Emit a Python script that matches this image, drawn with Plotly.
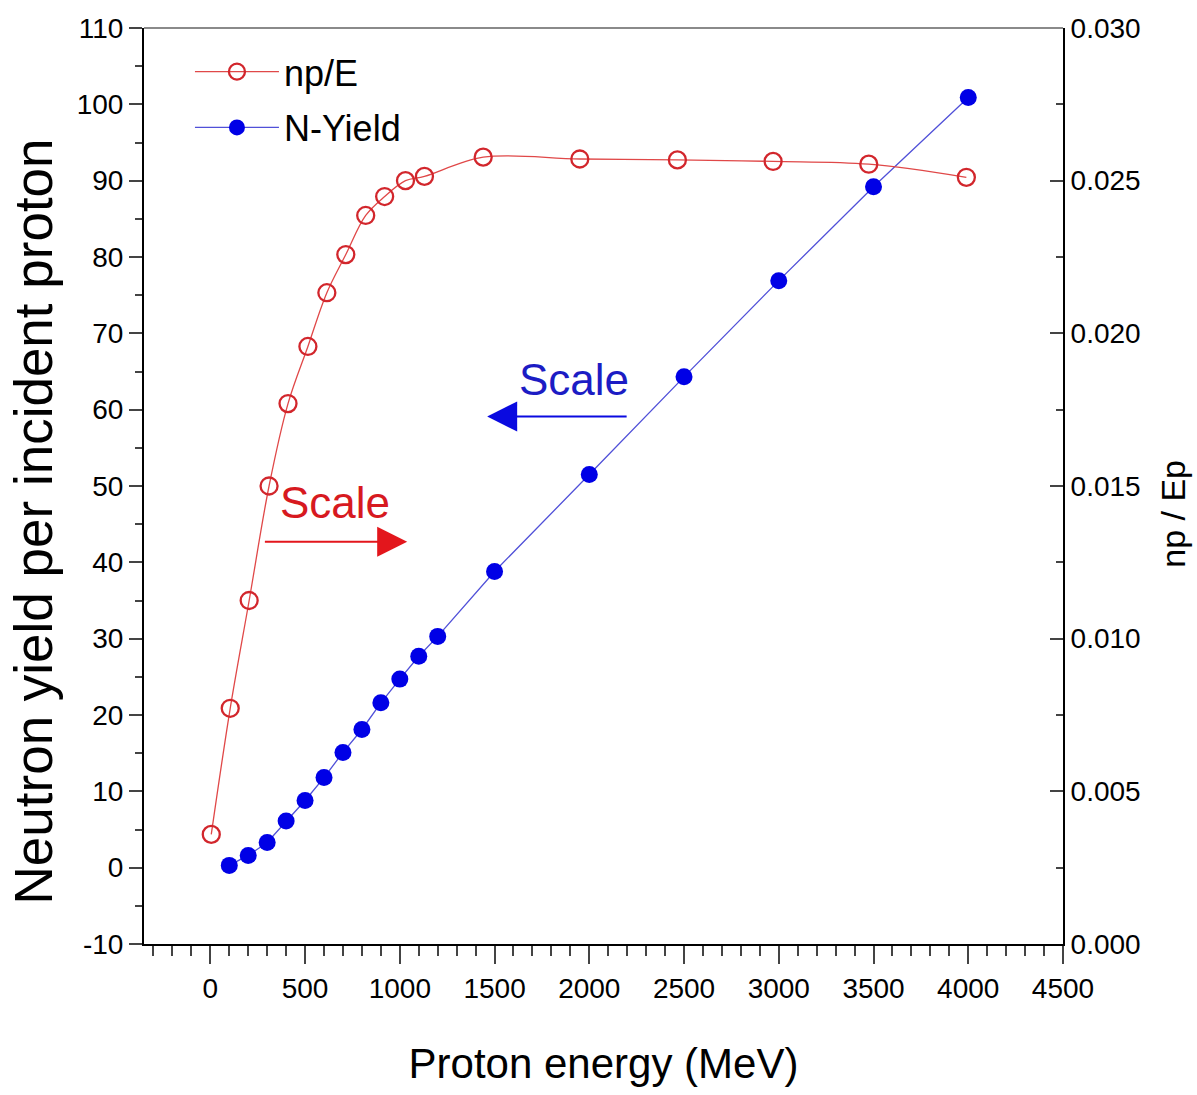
import plotly.graph_objects as go

# Proton energy (MeV) and neutron yield per incident proton (left axis)
energy_yield = [100, 200, 300, 400, 500, 600, 700, 800, 900, 1000, 1100, 1200,
                1500, 2000, 2500, 3000, 3500, 4000]
n_yield = [0.3, 1.6, 3.3, 6.1, 8.8, 11.8, 15.1, 18.1, 21.6, 24.7, 27.7, 30.3,
           38.8, 51.5, 64.3, 76.9, 89.2, 100.9]

# Proton energy (MeV) and neutrons per unit energy, np/Ep (right axis)
energy_npe = [5, 105, 205, 310, 410, 515, 615, 715, 820, 920, 1030, 1130,
              1440, 1950, 2465, 2970, 3475, 3990]
np_per_e = [0.00359, 0.00772, 0.01125, 0.01500, 0.01770, 0.01957, 0.02133,
            0.02258, 0.02386, 0.02448, 0.02500, 0.02514, 0.02577, 0.02571,
            0.02568, 0.02563, 0.02554, 0.02511]

x_ticks = [0, 500, 1000, 1500, 2000, 2500, 3000, 3500, 4000, 4500]
y_ticks = [-10, 0, 10, 20, 30, 40, 50, 60, 70, 80, 90, 100, 110]
y_tick_labels = ["-10", "0", "10", "20", "30", "40", "50", "60", "70", "80", "90", "100", "110"]

FONT = "Liberation Sans, Arial, sans-serif"
RED = "#d2262c"
BLUE = "#0000e6"

fig = go.Figure()

fig.add_trace(go.Scatter(
    x=energy_npe, y=np_per_e, yaxis="y2", name="np/E",
    mode="lines+markers", line=dict(color="#e04848", width=1.3, shape="spline", smoothing=1.0),
    marker=dict(symbol="circle-open", size=17, color=RED, line=dict(color=RED, width=2.3)),
    legendgroup="a",
))
fig.add_trace(go.Scatter(
    x=energy_yield, y=n_yield, name="N-Yield",
    mode="lines+markers", line=dict(color="#5050d8", width=1.3),
    marker=dict(symbol="circle", size=17, color=BLUE),
    legendgroup="b",
))

# "Scale" hints pointing to the axis each series belongs to
fig.add_annotation(x=1039, y=42.7, ax=280, ay=42.7, xref="x", yref="y",
                   axref="x", ayref="y", text="", showarrow=True,
                   arrowhead=2, arrowsize=3, arrowwidth=2, arrowcolor="#e3161c")
fig.add_annotation(x=659, y=47.8, xref="x", yref="y", text="Scale", showarrow=False,
                   font=dict(family=FONT, size=44, color="#d71920"))
fig.add_annotation(x=1461, y=59.1, ax=2205, ay=59.1, xref="x", yref="y",
                   axref="x", ayref="y", text="", showarrow=True,
                   arrowhead=2, arrowsize=3, arrowwidth=2, arrowcolor="#0a0ae0")
fig.add_annotation(x=1920, y=63.9, xref="x", yref="y", text="Scale", showarrow=False,
                   font=dict(family=FONT, size=44, color="#1c1cc4"))

# axis titles placed as rotated text beside the plot area
fig.add_annotation(x=-0.12, y=0.461, xref="paper", yref="paper",
                   xanchor="center", yanchor="middle",
                   text="Neutron yield per incident proton", textangle=-90,
                   showarrow=False, font=dict(family=FONT, size=53, color="black"))
fig.add_annotation(x=1.12, y=0.47, xref="paper", yref="paper",
                   xanchor="center", yanchor="middle",
                   text="np / Ep", textangle=-90,
                   showarrow=False, font=dict(family=FONT, size=34, color="black"))

# thin grey frame line along the top of the plot area
fig.add_shape(type="line", xref="paper", yref="paper", x0=0, x1=1, y0=1, y1=1,
              line=dict(color="#8a8a8a", width=2))

fig.update_layout(
    width=1197, height=1095,
    margin=dict(l=144, r=134, t=28, b=151),
    paper_bgcolor="white", plot_bgcolor="white",
    font=dict(family=FONT, size=28, color="black"),
    showlegend=True,
    legend=dict(x=0.05, y=0.985, xanchor="left", yanchor="top",
                bgcolor="rgba(0,0,0,0)", font=dict(family=FONT, size=36),
                traceorder="grouped", tracegroupgap=6, itemwidth=84),
    xaxis=dict(
        range=[-350, 4500], tickvals=x_ticks, ticks="outside", ticklen=18, tickwidth=2,
        showline=True, linecolor="black", linewidth=2, showgrid=False, zeroline=False,
        tickfont=dict(family=FONT, size=28),
        minor=dict(dtick=100, ticks="outside", ticklen=10, tickwidth=2, showgrid=False),
        title=dict(text="Proton energy (MeV)", font=dict(family=FONT, size=42), standoff=46),
    ),
    yaxis=dict(
        range=[-10, 110], tickvals=y_ticks, ticktext=y_tick_labels,
        ticks="outside", ticklen=13, tickwidth=2,
        showline=True, linecolor="black", linewidth=2, showgrid=False, zeroline=False,
        tickfont=dict(family=FONT, size=28),
        minor=dict(dtick=5, ticks="outside", ticklen=7, tickwidth=2, showgrid=False),
    ),
    yaxis2=dict(
        range=[0, 0.030], dtick=0.005, tickformat=".3f", overlaying="y", side="right",
        ticks="inside", ticklen=13, tickwidth=2,
        showline=True, linecolor="black", linewidth=2, showgrid=False, zeroline=False,
        tickfont=dict(family=FONT, size=28),
        minor=dict(dtick=0.0025, ticks="inside", ticklen=7, tickwidth=2, showgrid=False),
    ),
)

fig.write_html("out.html")
